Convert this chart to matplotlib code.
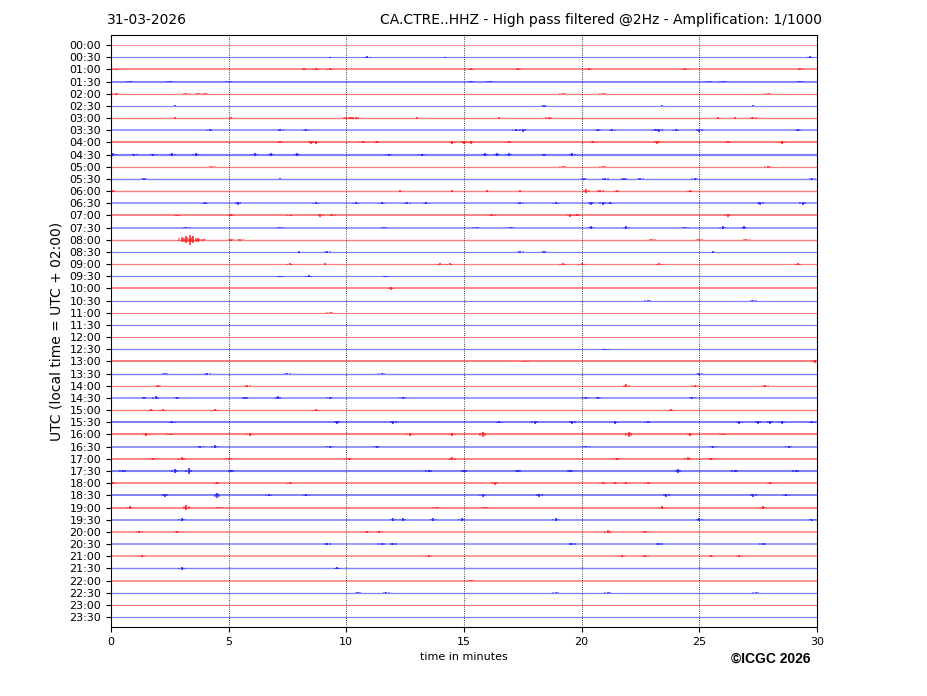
import numpy as np
import matplotlib
matplotlib.use("Agg")
import matplotlib.pyplot as plt

# helicorder rows, one per half hour
labels = ["%02d:%02d" % (h, m) for h in range(24) for m in (0, 30)]

# baseline thickness (noise level) per row
noise = [0.7, 1.0, 1.5, 1.6, 1.1, 1.0, 1.2, 1.3, 1.7, 1.9, 1.1, 1.2,
         1.2, 1.3, 1.6, 1.3, 1.2, 1.0, 1.1, 1.0, 1.6, 1.0, 1.0, 1.0,
         1.0, 1.1, 1.7, 1.2, 1.1, 1.3, 1.2, 1.7, 1.8, 1.4, 1.6, 1.8,
         1.5, 1.6, 1.6, 1.4, 1.4, 1.3, 1.3, 1.2, 1.4, 1.1, 1.0, 1.0]

# bursts per row: (minute, half amplitude in row units)
bursts = [
    [],
    [(9.3, .05), (10.9, .06), (14.2, .05), (29.7, .06)],
    [(0.2, .06), (8.2, .08), (8.7, .09), (9.3, .07), (15.3, .07), (17.3, .08), (20.3, .07), (24.4, .07), (29.3, .08)],
    [(0.8, .07), (2.5, .05), (5.0, .07), (15.3, .08), (16.1, .07), (25.4, .08), (26.0, .07), (29.3, .08)],
    [(0.2, .07), (3.2, .06), (3.7, .06), (4.0, .05), (19.2, .05), (20.9, .05), (27.9, .05)],
    [(2.7, .05), (18.4, .06), (23.4, .05), (27.3, .05)],
    [(2.7, .07), (5.1, .06), (10.0, .09), (10.2, .11), (10.4, .08), (13.0, .07), (16.5, .06), (18.6, .08), (25.8, .07), (26.5, .07), (27.3, .08)],
    [(4.2, .08), (7.2, .06), (8.3, .08), (17.2, .1), (17.5, .12), (20.7, .08), (21.3, .09), (23.1, .1), (23.3, .12), (24.0, .07), (25.0, .12), (29.2, .08)],
    [(7.2, .08), (8.5, .14), (8.7, .1), (10.7, .09), (11.3, .09), (14.5, .1), (15.0, .14), (15.3, .1), (16.9, .08), (20.5, .09), (23.2, .13), (26.2, .08), (28.5, .1)],
    [(0.1, .1), (1.0, .08), (1.8, .08), (2.6, .09), (3.6, .12), (6.1, .13), (6.8, .09), (7.9, .14), (11.8, .08), (13.2, .08), (15.9, .1), (16.4, .11), (16.9, .09), (18.4, .08), (19.6, .1)],
    [(4.3, .06), (19.2, .06), (20.9, .06), (27.9, .07)],
    [(1.4, .06), (7.2, .05), (20.1, .09), (21.0, .1), (21.8, .1), (22.5, .09), (24.8, .07), (29.8, .09)],
    [(0.05, .1), (12.3, .06), (14.5, .05), (16.0, .05), (17.4, .05), (20.2, .14), (20.8, .09), (21.5, .07), (24.6, .07)],
    [(4.0, .08), (5.4, .11), (8.7, .09), (10.4, .1), (11.5, .08), (12.6, .08), (13.4, .07), (17.4, .07), (18.9, .08), (20.4, .11), (20.9, .12), (21.2, .1), (27.6, .12), (29.4, .12)],
    [(2.8, .07), (5.1, .08), (7.6, .07), (8.9, .1), (9.4, .08), (16.2, .09), (19.5, .12), (19.8, .09), (26.2, .1)],
    [(3.2, .07), (7.2, .06), (11.6, .06), (15.5, .06), (17.0, .05), (20.4, .11), (21.9, .11), (24.4, .07), (26.0, .09), (26.9, .12)],
    [(3.0, .2), (3.2, .3), (3.35, .4), (3.5, .3), (3.7, .18), (3.9, .1), (5.1, .1), (5.5, .09), (23.0, .06), (25.0, .06), (27.0, .06)],
    [(8.0, .06), (9.2, .07), (17.4, .07), (18.4, .07), (25.6, .06)],
    [(7.6, .07), (9.1, .06), (14.0, .08), (14.4, .07), (19.2, .08), (20.0, .07), (23.3, .08), (29.2, .08)],
    [(7.2, .05), (8.4, .07), (11.7, .06)],
    [(11.9, .1)],
    [(22.8, .04), (27.3, .04)],
    [(9.3, .05)],
    [],
    [],
    [(21.0, .04)],
    [(17.6, .06), (29.9, .12)],
    [(2.3, .07), (4.1, .09), (7.5, .06), (11.5, .07), (25.0, .08)],
    [(2.0, .06), (5.8, .07), (21.9, .12), (24.8, .08), (27.8, .07)],
    [(1.4, .08), (1.9, .12), (2.8, .08), (5.7, .09), (7.1, .12), (9.3, .07), (12.4, .07), (20.2, .08), (20.7, .07), (24.7, .08)],
    [(1.7, .08), (2.2, .07), (4.4, .07), (8.7, .07), (23.8, .07)],
    [(2.6, .08), (9.6, .12), (12.0, .12), (16.5, .08), (18.0, .12), (19.6, .12), (21.4, .11), (22.8, .08), (26.7, .1), (27.5, .13), (28.0, .12), (28.5, .1), (29.8, .09)],
    [(1.5, .09), (2.5, .08), (5.9, .14), (12.7, .13), (14.5, .09), (15.8, .22), (22.0, .2), (24.6, .09), (26.0, .08)],
    [(3.8, .08), (4.4, .12), (9.3, .08), (11.3, .08), (20.2, .07), (25.6, .09), (28.8, .08)],
    [(1.8, .08), (3.0, .12), (5.0, .08), (10.1, .09), (14.5, .13), (21.5, .08), (24.5, .13), (25.5, .1)],
    [(0.5, .08), (2.7, .2), (3.3, .22), (5.1, .1), (13.5, .08), (15.0, .1), (17.3, .1), (19.5, .08), (24.1, .14), (26.5, .08), (29.1, .1)],
    [(0.1, .08), (4.5, .07), (7.6, .07), (16.3, .12), (20.9, .09), (21.4, .08), (21.9, .08), (22.8, .07), (28.0, .08)],
    [(2.3, .13), (4.5, .2), (6.7, .09), (8.3, .08), (15.8, .1), (18.2, .13), (23.6, .14), (27.3, .14), (28.7, .09)],
    [(0.8, .09), (3.2, .2), (4.6, .08), (13.8, .08), (15.9, .08), (23.4, .1), (27.7, .09)],
    [(3.0, .12), (12.0, .11), (12.4, .1), (13.7, .12), (14.9, .12), (18.9, .1), (25.0, .1), (29.8, .08)],
    [(1.2, .07), (2.8, .08), (10.9, .09), (11.4, .08), (21.1, .12), (22.7, .06)],
    [(9.2, .08), (11.5, .1), (12.0, .08), (19.6, .1), (23.3, .08), (27.7, .09)],
    [(1.3, .08), (13.5, .07), (21.7, .07), (22.7, .08), (25.5, .09), (26.7, .07)],
    [(3.0, .1), (9.6, .09)],
    [(15.3, .07)],
    [(10.5, .05), (11.7, .06), (18.9, .05), (21.1, .06), (27.4, .05)],
    [],
    [],
]

colors = ["red", "blue"]

fig = plt.figure(figsize=(9.27, 6.96), dpi=100)
ax = fig.add_axes([0.1197, 0.0991, 0.7616, 0.8506])

for i in range(len(labels)):
    c = colors[i % 2]
    ax.plot([0, 30], [i, i], color=c, lw=noise[i] * 0.85, alpha=0.5, solid_capstyle="butt")
    if bursts[i]:
        t = np.array([b[0] for b in bursts[i]])
        a = np.array([b[1] for b in bursts[i]])
        # spindle: a centre stroke with two weaker side strokes
        ax.vlines(t, i - a, i + a, color=c, lw=1.2, alpha=0.8)
        ax.vlines(np.concatenate([t - 0.1, t + 0.1]), i - np.tile(a, 2) * 0.55,
                  i + np.tile(a, 2) * 0.55, color=c, lw=1.2, alpha=0.5)

ax.set_xlim(0, 30)
ax.set_ylim(len(labels) - 1 + 0.82, -0.82)
ax.set_yticks(range(len(labels)))
ax.set_yticklabels(labels, fontsize=8)
ax.set_xticks([0, 5, 10, 15, 20, 25, 30])
ax.tick_params(axis="x", labelsize=8)
for x in [5, 10, 15, 20, 25]:
    ax.axvline(x, color="black", ls=":", lw=0.6, zorder=0)

ax.set_xlabel("time in minutes", fontsize=8)
ax.set_ylabel("UTC (local time = UTC + 02:00)", fontsize=10)

fig.text(0.1155, 0.971, "31-03-2026", fontsize=10, ha="left", va="center")
fig.text(0.887, 0.971, "CA.CTRE..HHZ - High pass filtered @2Hz - Amplification: 1/1000",
         fontsize=10, ha="right", va="center")
fig.text(0.831, 0.054, "\u00a9ICGC 2026", fontsize=10, fontweight="bold",
         family="Liberation Sans", ha="center", va="center")

fig.savefig("out.png", dpi=100)
